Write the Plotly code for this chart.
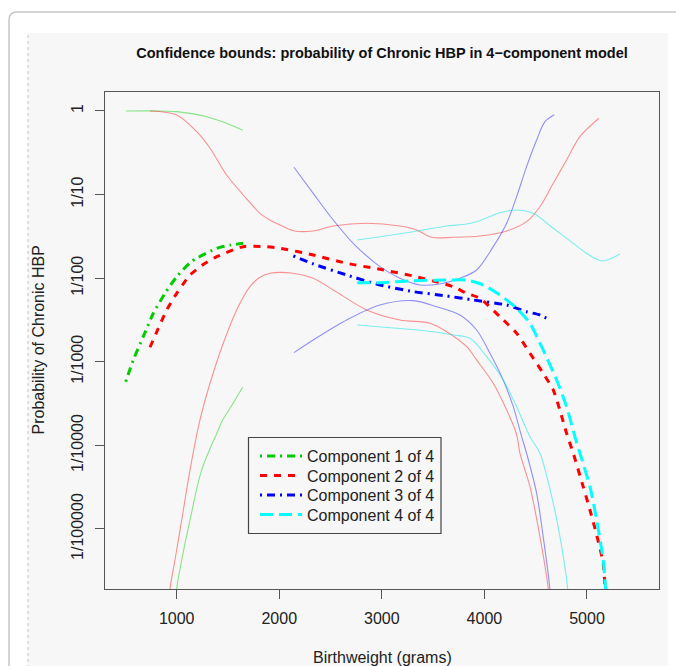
import plotly.graph_objects as go

# ---- data: birthweight (grams) and log10(probability) ----
c1_mean_x = [503, 577, 674, 772, 886, 1000, 1130, 1195, 1390, 1520, 1649]
c1_mean_lp = [-3.238, -2.978, -2.700, -2.420, -2.181, -1.982, -1.815, -1.762, -1.643, -1.605, -1.583]
c1_up_x = [503, 837, 1000, 1160, 1325, 1480, 1643]
c1_up_lp = [0, 0, -0.008, -0.035, -0.080, -0.145, -0.231]
c1_lo_x = [975, 1000, 1049, 1130, 1244, 1405, 1448, 1520, 1643]
c1_lo_lp = [-6.1, -5.710, -5.371, -4.892, -4.294, -3.816, -3.696, -3.556, -3.305]

c2_mean_x = [740, 821, 903, 1000, 1130, 1276, 1390, 1649, 1861, 2007, 2331, 2657, 2982, 3306,
             3501, 3696, 3827, 3956, 4151, 4314, 4444, 4573, 4671, 4736, 4801, 4866, 4963,
             5029, 5094, 5158, 5180]
c2_mean_lp = [-2.826, -2.599, -2.380, -2.181, -1.962, -1.822, -1.743, -1.623, -1.623, -1.642,
              -1.722, -1.822, -1.894, -1.974, -2.033, -2.102, -2.181, -2.240, -2.461, -2.659,
              -2.898, -3.138, -3.337, -3.58, -3.855, -4.094, -4.494, -4.773, -5.07, -5.410, -5.80]
c2_up_x = [740, 1000, 1195, 1325, 1487, 1649, 1812, 1909, 2007, 2137, 2331, 2526, 2852, 3176,
           3339, 3485, 3696, 3956, 4217, 4411, 4541, 4671, 4801, 4931, 5116]
c2_up_lp = [0, -0.048, -0.248, -0.446, -0.766, -1.005, -1.224, -1.304, -1.364, -1.432, -1.435,
            -1.376, -1.343, -1.376, -1.423, -1.511, -1.511, -1.495, -1.435, -1.324, -1.145,
            -0.865, -0.586, -0.307, -0.087]
c2_lo_x = [905, 935, 983, 1049, 1130, 1227, 1325, 1454, 1585, 1714, 1812, 1909, 2137, 2331,
           2526, 2852, 3176, 3469, 3632, 3827, 3924, 4086, 4217, 4314, 4346, 4444, 4541, 4622, 4640]
c2_lo_lp = [-6.1, -5.710, -5.371, -4.892, -4.294, -3.696, -3.257, -2.779, -2.380, -2.102, -1.989,
            -1.941, -1.941, -2.001, -2.141, -2.380, -2.500, -2.539, -2.640, -2.819, -2.978,
            -3.257, -3.577, -3.87, -4.094, -4.494, -5.092, -5.710, -6.0]

c3_mean_x = [2137, 2331, 2657, 2982, 3306, 3632, 3891, 4217, 4411, 4541, 4638]
c3_mean_lp = [-1.734, -1.830, -1.962, -2.081, -2.161, -2.213, -2.261, -2.321, -2.401, -2.440, -2.500]
c3_up_x = [2143, 2331, 2526, 2721, 2982, 3176, 3371, 3566, 3761, 3924, 4086, 4217, 4314, 4411,
           4509, 4590, 4681]
c3_up_lp = [-0.673, -0.985, -1.304, -1.583, -1.862, -2.001, -2.081, -2.069, -2.001, -1.902,
            -1.623, -1.343, -1.025, -0.666, -0.347, -0.128, -0.044]
c3_lo_x = [2143, 2331, 2657, 2982, 3306, 3534, 3761, 3924, 4054, 4183, 4281, 4363, 4411, 4509,
           4573, 4638, 4655]
c3_lo_lp = [-2.891, -2.739, -2.500, -2.321, -2.269, -2.341, -2.440, -2.620, -2.898, -3.218,
            -3.537, -3.896, -4.094, -4.573, -5.092, -5.710, -6.0]

c4_mean_x = [2760, 2982, 3306, 3632, 3827, 3988, 4151, 4314, 4444, 4573, 4704, 4801, 4882, 4931,
             5029, 5094, 5158, 5181, 5195]
c4_mean_lp = [-2.054, -2.054, -2.030, -2.022, -2.022, -2.081, -2.201, -2.360, -2.539, -2.859,
              -3.218, -3.537, -3.896, -4.094, -4.494, -4.892, -5.371, -5.710, -6.0]
c4_up_x = [2760, 2982, 3306, 3632, 3827, 3956, 4151, 4314, 4476, 4671, 4866, 4996, 5148, 5321]
c4_up_lp = [-1.543, -1.504, -1.444, -1.376, -1.352, -1.312, -1.217, -1.184, -1.224, -1.403,
            -1.583, -1.702, -1.794, -1.711]
c4_lo_x = [2760, 3144, 3501, 3696, 3859, 4022, 4183, 4314, 4444, 4541, 4671, 4753, 4811, 4825]
c4_lo_lp = [-2.560, -2.599, -2.640, -2.679, -2.719, -2.939, -3.218, -3.537, -3.896, -4.094,
            -4.693, -5.212, -5.710, -6.0]

legend_names = ["Component 1 of 4", "Component 2 of 4", "Component 3 of 4", "Component 4 of 4"]
y_tick_vals = [1, 0.1, 0.01, 0.001, 0.0001, 0.00001]
y_tick_text = ["1", "1/10", "1/100", "1/1000", "1/10000", "1/100000"]
x_tick_vals = [1000, 2000, 3000, 4000, 5000]


def p(lp):
    return [10 ** v for v in lp]


FONT = "Liberation Sans, Arial, Helvetica, sans-serif"
W, H = 676, 666
L, R, T, B = 105, 17, 92, 77
PW, PH = W - L - R, H - T - B


def px(xp):
    return (xp - L) / PW


def py(yp):
    return (H - B - yp) / PH


comps = [
    ("rgb(0,205,0)", "rgba(0,205,0,0.45)", "2px,5px,8px,5px",
     (c1_mean_x, c1_mean_lp), (c1_up_x, c1_up_lp), (c1_lo_x, c1_lo_lp)),
    ("rgb(255,0,0)", "rgba(255,0,0,0.42)", "7px,7px",
     (c2_mean_x, c2_mean_lp), (c2_up_x, c2_up_lp), (c2_lo_x, c2_lo_lp)),
    ("rgb(0,0,255)", "rgba(0,0,255,0.42)", "2px,5px,8px,5px",
     (c3_mean_x, c3_mean_lp), (c3_up_x, c3_up_lp), (c3_lo_x, c3_lo_lp)),
    ("rgb(0,255,255)", "rgba(0,230,230,0.5)", "13px,6px",
     (c4_mean_x, c4_mean_lp), (c4_up_x, c4_up_lp), (c4_lo_x, c4_lo_lp)),
]

legend_ids = ["legend", "legend2", "legend3", "legend4"]
legend_rows = [456, 475.5, 495, 514.5]

fig = go.Figure()
for name, (col, lcol, dash, mean, up, lo) in zip(legend_names, comps):
    for bx, blp in (up, lo):
        fig.add_trace(go.Scatter(x=bx, y=p(blp), mode="lines", showlegend=False,
                                 line=dict(color=lcol, width=1.1, shape="spline", smoothing=0.9),
                                 hoverinfo="skip"))
for lid, name, (col, lcol, dash, mean, up, lo) in zip(legend_ids, legend_names, comps):
    fig.add_trace(go.Scatter(x=mean[0], y=p(mean[1]), mode="lines", name=name, legend=lid,
                             line=dict(color=col, width=3, dash=dash, shape="spline", smoothing=0.6)))

shapes = [
    dict(type="rect", xref="paper", yref="paper", x0=px(28), x1=px(668), y0=py(680), y1=py(33),
         fillcolor="#f7f7f7", line=dict(width=0), layer="below"),
    dict(type="line", xref="paper", yref="paper", x0=px(28), x1=px(28), y0=py(680), y1=py(33),
         line=dict(color="#c4c4c4", width=1, dash="dot"), layer="below"),
    dict(type="path", xref="paper", yref="paper",
         path=f"M {px(9)},{py(680)} L {px(9)},{py(20)} Q {px(9)},{py(12)} {px(17)},{py(12)} L {px(690)},{py(12)}",
         line=dict(color="#c6c6c6", width=1.5), layer="below"),
    # legend box
    dict(type="rect", xref="paper", yref="paper", x0=px(248.5), x1=px(441), y0=py(533.5), y1=py(437.5),
         fillcolor="#f7f7f7", line=dict(color="#444", width=1.2), layer="above"),
]

annotations = [
    dict(text="Probability of Chronic HBP", xref="paper", yref="paper", x=px(38), y=0.5,
         textangle=-90, showarrow=False, xanchor="center", yanchor="middle",
         font=dict(family=FONT, size=16, color="#222")),
    dict(text="Birthweight (grams)", xref="paper", yref="paper", x=0.5, y=py(657),
         showarrow=False, xanchor="center", yanchor="middle",
         font=dict(family=FONT, size=16, color="#222")),
]

axis_common = dict(showgrid=False, zeroline=False, showline=True, mirror=True,
                   linecolor="#555", linewidth=1.3, ticks="outside", ticklen=9,
                   tickwidth=1.2, tickcolor="#555",
                   tickfont=dict(family=FONT, size=16, color="#222"))

legend_common = dict(xanchor="left", yanchor="middle", bgcolor="rgba(0,0,0,0)",
                     borderwidth=0, itemwidth=42,
                     font=dict(family=FONT, size=16, color="#222"))
legends = {}
for lid, row in zip(legend_ids, legend_rows):
    legends[lid] = dict(x=px(255), y=py(row), **legend_common)

fig.update_layout(
    width=W, height=H, margin=dict(l=L, r=R, t=T, b=B, autoexpand=False),
    paper_bgcolor="white", plot_bgcolor="#f7f7f7",
    title=dict(text="<b>Confidence bounds: probability of Chronic HBP in 4\u2212component model</b>",
               x=0.5, xref="paper", y=1 - 53 / H, yref="container", xanchor="center",
               yanchor="middle", font=dict(family=FONT, size=14.5, color="#111")),
    xaxis=dict(range=[301, 5702], tickvals=x_tick_vals, ticklabelstandoff=6, **axis_common),
    yaxis=dict(type="log", range=[-5.718, 0.227], tickvals=y_tick_vals, ticktext=y_tick_text,
               tickangle=-90, ticklabelstandoff=5, **axis_common),
    shapes=shapes, annotations=annotations, showlegend=True,
    **legends,
)

fig.write_html("out.html")
